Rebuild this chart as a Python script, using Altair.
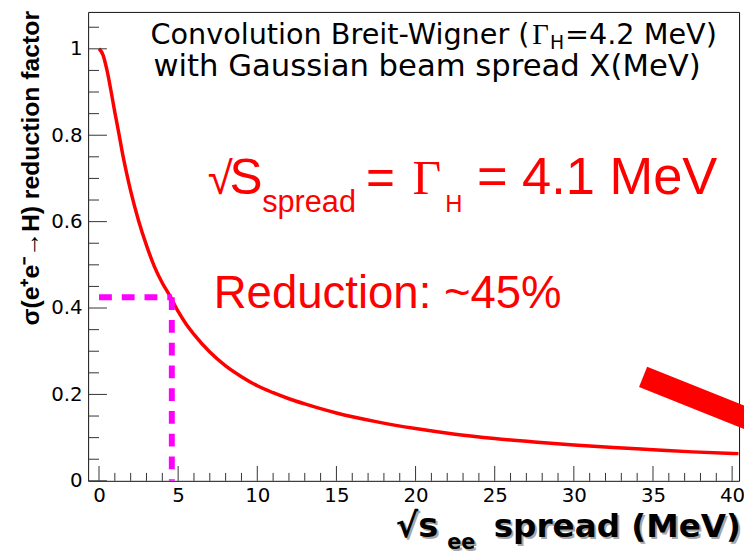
import altair as alt
import pandas as pd

# ---- data ----
spread_mev = [0, 0.25, 0.5, 0.75, 1, 1.25, 1.5, 1.75, 2, 2.5, 3, 3.5, 4, 4.5, 5,
              5.5, 6, 7, 8, 9, 10, 11, 12, 13, 14, 15, 17.5, 20, 22.5, 25, 27.5,
              30, 32.5, 35, 37.5, 40.4]
reduction = [1.000, 0.986, 0.951, 0.904, 0.853, 0.805, 0.755, 0.711, 0.671, 0.602,
             0.545, 0.496, 0.458, 0.427, 0.392, 0.363, 0.339, 0.298, 0.266, 0.241,
             0.220, 0.204, 0.190, 0.178, 0.167, 0.157, 0.137, 0.121, 0.108, 0.098,
             0.090, 0.083, 0.077, 0.072, 0.067, 0.063]

x_major = [0, 5, 10, 15, 20, 25, 30, 35, 40]
x_minor = [i for i in range(1, 41) if i % 5 != 0]
y_major = [0, 0.2, 0.4, 0.6, 0.8, 1.0]
y_minor = [0.05, 0.1, 0.15, 0.25, 0.3, 0.35, 0.45, 0.5, 0.55, 0.65, 0.7, 0.75,
           0.85, 0.9, 0.95, 1.05]

marker_spread = 4.6      # dashed guide
marker_reduction = 0.425

X_DOMAIN = [-0.6875, 40.4375]
Y_DOMAIN = [0, 1.0854]

W, H = 658, 474


def ux(px):
    """page pixel -> data x (annotation anchors)"""
    return (px - 100) / 16.0


def uy(py):
    return (483 - py) / 436.7


xs = alt.Scale(domain=X_DOMAIN, nice=False, zero=False)
ys = alt.Scale(domain=Y_DOMAIN, nice=False, zero=False)
x_axis = alt.Axis(values=x_major, format="d", labelPadding=5, title=None, labelFontSize=20)
y_axis = alt.Axis(values=y_major, format=".1~f", labelPadding=6, title=None, labelFontSize=20)


def X():
    return alt.X("spread:Q", scale=xs, axis=x_axis)


def Y():
    return alt.Y("reduction:Q", scale=ys, axis=y_axis)


curve_df = pd.DataFrame({"spread": spread_mev, "reduction": reduction})

curve = alt.Chart(curve_df).mark_line(
    color="#ff0000", strokeWidth=3.5, interpolate="monotone"
).encode(x=X(), y=Y())

TICK = "#333333"


def yticks(vals, length):
    return alt.Chart(pd.DataFrame({"reduction": vals})).mark_rule(color=TICK, strokeWidth=1).encode(
        y=Y(), x=alt.value(0), x2=alt.value(length))


def xticks(vals, length):
    return alt.Chart(pd.DataFrame({"spread": vals})).mark_rule(color=TICK, strokeWidth=1).encode(
        x=X(), y=alt.value(H), y2=alt.value(H - length))


ticks = [yticks(y_major, 19), yticks(y_minor, 11), xticks(x_major, 15), xticks(x_minor, 8)]

hdash = alt.Chart(pd.DataFrame({"spread": [0], "spread2": [marker_spread],
                                "reduction": [marker_reduction]})).mark_rule(
    color="#ff00ff", strokeWidth=6, strokeDash=[13, 10], strokeCap="butt"
).encode(x=X(), x2="spread2:Q", y=Y())

vdash = alt.Chart(pd.DataFrame({"spread": [marker_spread], "reduction": [marker_reduction],
                                "reduction2": [0]})).mark_rule(
    color="#ff00ff", strokeWidth=6, strokeDash=[13, 10], strokeCap="butt"
).encode(x=X(), y=Y(), y2="reduction2:Q")

arrow = alt.Chart(pd.DataFrame({"spread": [ux(650)], "reduction": [uy(378)],
                                "spread2": [ux(650) + 7.5],
                                "reduction2": [uy(378) - 7.5 * 0.4 * 16 / 436.7]})).mark_rule(
    color="#ff0000", strokeWidth=22, strokeCap="butt"
).encode(x=X(), y=Y(), x2="spread2:Q", y2="reduction2:Q")


def label(text, px, py, size, color="#000000", font="DejaVu Sans", weight="normal",
          align="left", angle=0, dx=0, dy=0):
    df = pd.DataFrame({"spread": [ux(px)], "reduction": [uy(py)], "t": [text]})
    kw = dict(font=font, fontSize=size, color=color, fontWeight=weight, align=align,
              baseline="alphabetic")
    if angle:
        kw["angle"] = angle
    if dx:
        kw["dx"] = dx
    if dy:
        kw["dy"] = dy
    return alt.Chart(df).mark_text(**kw).encode(x=X(), y=Y(), text="t:N")


RED = "#ff0000"
SANS = "Liberation Sans"
SERIF = "Liberation Serif"
texts = [
    # red annotations
    label("√", 210, 193, 46, RED, SANS),
    label("S", 232, 193, 50, RED, SANS),
    label("spread", 265, 211, 31, RED, SANS),
    label("=", 370, 193, 50, RED, SANS),
    label("Γ", 417, 193, 50, RED, SERIF),
    label("H", 450, 211, 24, RED, SANS),
    label("= 4.1 MeV", 482, 193, 53, RED, SANS),
    label("Reduction: ~45%", 216, 308, 46, RED, SANS),
    # black box text
    label("Convolution Breit-Wigner (", 152, 41, 29),
    label("Γ", 538, 41, 29, font=SERIF),
    label("H", 556, 46, 19),
    label("=4.2 MeV)", 571, 41, 29),
    label("with Gaussian beam spread X(MeV)", 155, 74, 31),
    # y title
    label("σ(e⁺e⁻→H) reduction factor", 39, 167, 25, font=SANS, weight="bold",
          align="center", angle=270),
]

# x title with shadow
for col, d in (("#a8a8a8", 2), ("#000000", 0)):
    texts += [
        label("√s", 443, 540, 34, col, weight="bold", align="right", dx=d, dy=d),
        label("ee", 452, 552, 21, col, weight="bold", dx=d, dy=d),
        label("spread (MeV)", 749, 540, 33, col, weight="bold", align="right", dx=d, dy=d),
    ]

chart = alt.layer(curve, *ticks, hdash, vdash, arrow, *texts).properties(
    width=W, height=H,
    autosize=alt.AutoSizeParams(type="none"),
    padding={"left": 81, "top": 1, "right": 5, "bottom": 72},
    background="#ffffff",
).configure_view(
    stroke="#111111", strokeWidth=1
).configure_axis(
    domain=False, ticks=False, tickSize=0, grid=False,
    labelFont="DejaVu Sans", labelColor="#000000",
)

chart.save("out.html", embed_options={"renderer": "svg", "actions": False})
